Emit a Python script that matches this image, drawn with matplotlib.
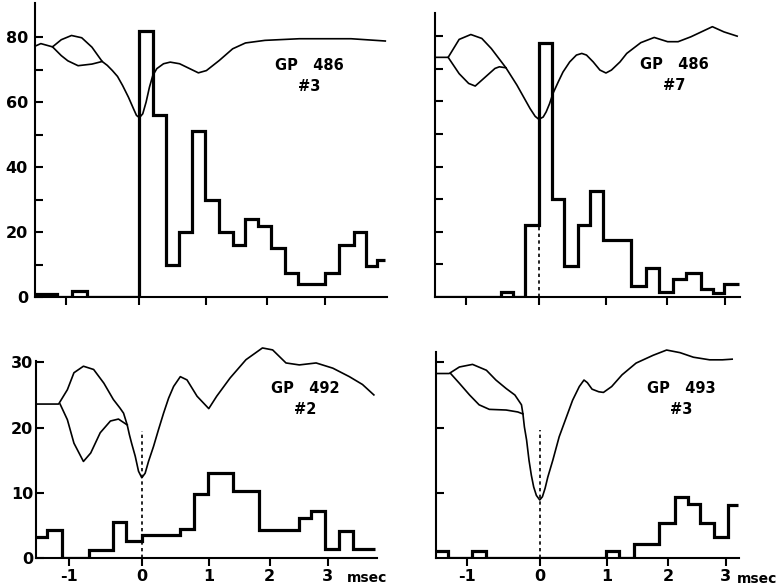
import numpy as np
import matplotlib
matplotlib.use('Agg')
import matplotlib.pyplot as plt

plt.rcParams['font.family'] = ['DejaVu Sans']
plt.rcParams['font.weight'] = 'bold'

# ---- GP 486 #3 ----
p1_edges = [-1.43, -1.13, -0.92, -0.72, 0, 0.21, 0.39, 0.59, 0.79, 0.975, 1.21, 1.43, 1.64, 1.84,
            2.06, 2.30, 2.52, 3.0, 3.24, 3.50, 3.72, 3.90, 4.05]
p1_counts = [1, 0, 2, 0, 82, 56, 10, 20, 51, 30, 20, 16, 24, 22, 15, 7.5, 4, 7.5, 16, 20, 9.5, 11.5]
p1_ta = [-1.43, -1.35, -1.19, -1.07, -0.93, -0.79, -0.65, -0.51, -0.44, -0.37, -0.30, -0.23,
         -0.15, -0.08, -0.04, 0, 0.05, 0.10, 0.15, 0.20, 0.26, 0.36, 0.46, 0.60, 0.75, 0.88,
         1.0, 1.21, 1.43, 1.64, 1.96, 2.55, 3.45, 4.05]
p1_va = [77.2, 78, 77, 79.2, 80.5, 79.8, 76.9, 72.5, 71.3, 69.7, 67.9, 65.1,
         61.5, 57.9, 55.9, 55.2, 56.4, 60, 64.6, 68.2, 70.3, 71.8, 72.3, 71.8, 70.3, 69,
         69.7, 72.8, 76.4, 78.2, 79, 79.5, 79.5, 78.8]
p1_tb = [-1.19, -1.07, -0.98, -0.84, -0.65, -0.51]
p1_vb = [77, 74.3, 72.7, 71.2, 71.7, 72.5]

# ---- GP 486 #7 ----
p2_edges = [-1.42, -0.52, -0.36, -0.185, 0, 0.19, 0.38, 0.58, 0.76, 0.96, 1.41, 1.65, 1.87,
            2.10, 2.33, 2.59, 2.79, 2.98, 3.24]
p2_counts = [0, 1.5, 0, 22, 78, 30, 9.5, 22, 32.5, 17.5, 3.5, 9, 1.5, 5.5, 7.5, 2.5, 1.2, 4]
p2_ta = [-1.42, -1.24, -1.18, -1.09, -0.93, -0.78, -0.65, -0.45, -0.30, -0.21, -0.12, -0.05,
         0, 0.065, 0.11, 0.16, 0.21, 0.29, 0.36, 0.46, 0.56, 0.64, 0.71, 0.81, 0.91, 1.0,
         1.09, 1.23, 1.34, 1.57, 1.79, 2.01, 2.19, 2.41, 2.78, 2.98, 3.21]
p2_va = [73.5, 73.5, 75.7, 79, 80.5, 79.3, 76.2, 70.3, 65, 61.4, 57.8, 55.4,
         54.5, 55.2, 56.8, 59.3, 62.4, 66, 69, 72.1, 74.2, 74.7, 74.2, 72.1, 69.6, 68.7,
         69.6, 72.1, 74.7, 78, 79.6, 78.3, 78.3, 79.8, 82.9, 81.3, 80]
p2_tb = [-1.24, -1.09, -0.96, -0.87, -0.74, -0.60, -0.54, -0.45]
p2_vb = [73.5, 68.5, 65.5, 64.7, 67.3, 70.1, 70.6, 70.3]

# ---- GP 492 #2 ----
p3_edges = [-1.45, -1.30, -1.10, -0.73, -0.39, -0.21, 0, 0.575, 0.775, 0.99, 1.39, 1.83, 2.50,
            2.72, 2.96, 3.20, 3.45, 3.83]
p3_counts = [3.2, 4.3, 0, 1.3, 5.5, 2.6, 3.6, 4.4, 9.8, 13, 10.2, 4.3, 6.1, 7.2, 1.4, 4.2, 1.4]
p3_ta = [-1.44, -1.14, -1.02, -0.93, -0.80, -0.66, -0.52, -0.39, -0.30, -0.25, -0.20, -0.17,
         -0.14, -0.09, -0.045, 0, 0.05, 0.10, 0.175, 0.25, 0.325, 0.40, 0.475, 0.575, 0.675,
         0.825, 1.0, 1.13, 1.35, 1.61, 1.88, 2.05, 2.28, 2.51, 2.80, 3.09, 3.38, 3.61, 3.81]
p3_va = [23.6, 23.6, 25.8, 28.4, 29.4, 28.9, 26.8, 24.3, 23, 22.2, 20.4, 18.9,
         17.6, 15.6, 13.3, 12.3, 13, 14.8, 17.1, 19.7, 22.2, 24.5, 26.3, 27.8, 27.3,
         24.8, 22.9, 24.8, 27.6, 30.4, 32.2, 31.9, 29.9, 29.6, 29.9, 29.1, 27.8, 26.6, 25.0]
p3_tb = [-1.12, -1.02, -0.93, -0.80, -0.70, -0.57, -0.43, -0.32, -0.20]
p3_vb = [23.6, 21.2, 17.6, 14.8, 16.1, 19.2, 21, 21.3, 20.4]

# ---- GP 493 #3 ----
p4_edges = [-1.42, -1.26, -0.93, -0.73, 0.985, 1.20, 1.44, 1.86, 2.12, 2.34, 2.56, 2.79, 3.03, 3.21]
p4_counts = [1.0, 0, 1.0, 0, 1.0, 0, 2.1, 5.3, 9.4, 8.3, 5.3, 3.2, 8.1]
p4_ta = [-1.42, -1.24, -1.10, -0.92, -0.73, -0.60, -0.46, -0.34, -0.25, -0.23, -0.21, -0.18,
         -0.147, -0.115, -0.083, -0.046, 0, 0.04, 0.08, 0.12, 0.195, 0.29, 0.39, 0.49, 0.59,
         0.66, 0.71, 0.78, 0.88, 0.95, 1.08, 1.25, 1.48, 1.76, 1.98, 2.21, 2.44, 2.72, 2.94, 3.11]
p4_va = [28.3, 28.3, 29.3, 29.7, 28.8, 27.3, 26.0, 25, 23.5, 22.1, 20.1, 18.1,
         15, 12.7, 10.9, 9.6, 8.9, 9.4, 10.7, 12.4, 15, 18.6, 21.4, 24.2, 26.3,
         27.3, 26.9, 25.9, 25.5, 25.4, 26.3, 28.1, 29.9, 31.1, 31.9, 31.5, 30.8, 30.4, 30.4, 30.5]
p4_tb = [-1.22, -1.10, -0.96, -0.83, -0.69, -0.46, -0.30, -0.23]
p4_vb = [28.3, 26.8, 25, 23.5, 22.8, 22.7, 22.4, 22.1]

names = ['GP   486\n#3', 'GP   486\n#7', 'GP   492\n#2', 'GP   493\n#3']
dash_top = [None, 22, 19.5, 19.6]

# the printed time axis is not linear: tick spacing shrinks to the right
t_ref = [-2, -1, 0, 1, 2, 3, 4, 5]
p_ref = [-146, -73, 0, 67, 128, 186, 243, 300]


def fwd(t):
    return np.interp(t, t_ref, p_ref)


def inv(p):
    return np.interp(p, p_ref, t_ref)


W, H = 777, 586
fig = plt.figure(figsize=(W / 100, H / 100), dpi=100)

# pixel boxes (left, top, right, bottom), xlim, ylim
boxes = [(35, 3, 387, 297), (435, 13, 740, 297), (36, 361, 377, 558), (436, 352, 739, 558)]
xlims = [(-1.43, 4.08), (-1.42, 3.26), (-1.45, 3.865), (-1.42, 3.23)]
ylims = [(0, 90.5), (0, 87.1), (0, 30.2), (0, 31.6)]
label_xy = [(309, 76), (674, 75), (305, 399), (681, 399)]

data = [(p1_edges, p1_counts, p1_ta, p1_va, p1_tb, p1_vb),
        (p2_edges, p2_counts, p2_ta, p2_va, p2_tb, p2_vb),
        (p3_edges, p3_counts, p3_ta, p3_va, p3_tb, p3_vb),
        (p4_edges, p4_counts, p4_ta, p4_va, p4_tb, p4_vb)]

for i in range(4):
    l, t, r, b = boxes[i]
    ax = fig.add_axes([l / W, 1 - b / H, (r - l) / W, (b - t) / H])
    ax.set_xscale('function', functions=(fwd, inv))
    ax.set_xlim(xlims[i])
    ax.set_ylim(ylims[i])
    ax.spines['top'].set_visible(False)
    ax.spines['right'].set_visible(False)
    ax.spines['left'].set_linewidth(1.5)
    ax.spines['bottom'].set_linewidth(1.5)

    edges, counts, ta, va, tb, vb = data[i]
    ax.stairs(counts, edges, baseline=None, color='black', linewidth=2.3)
    ax.plot(ta, va, color='black', linewidth=1.2, clip_on=False)
    ax.plot(tb, vb, color='black', linewidth=1.2, clip_on=False)
    if dash_top[i] is not None:
        ax.vlines(0, 0, dash_top[i], color='black', linewidth=1.2, linestyles=(0, (2, 2)))

    ax.set_xticks([-1, 0, 1, 2, 3])
    ax.tick_params(axis='x', direction='out', length=6, width=1.5, labelsize=11.5, pad=2)
    ax.tick_params(axis='y', direction='in', length=6, width=1.5, labelsize=11.5, pad=5)
    if i < 2:
        ax.set_xticklabels([])
    else:
        ax.set_xticklabels(['-1', '0', '1', '2', '3'])

    if i == 0:
        ax.set_yticks(range(0, 81, 10))
        ax.set_yticklabels(['0', '', '20', '', '40', '', '60', '', '80'])
    elif i == 1:
        ax.set_yticks(range(10, 81, 10))
        ax.set_yticklabels([])
    elif i == 2:
        ax.set_yticks([0, 10, 20, 30])
        ax.set_yticklabels(['0', '10', '20', '30'])
        ax.tick_params(axis='y', pad=2)
    else:
        ax.set_yticks([10, 20, 30])
        ax.set_yticklabels([])

    x, y = label_xy[i]
    fig.text(x / W, 1 - y / H, names[i], ha='center', va='center', fontsize=10.5,
             linespacing=1.55)

fig.text(367 / W, 1 - 578 / H, 'msec', ha='center', va='center', fontsize=10)
fig.text(757 / W, 1 - 579 / H, 'msec', ha='center', va='center', fontsize=10)

plt.savefig('out.png', dpi=100)
